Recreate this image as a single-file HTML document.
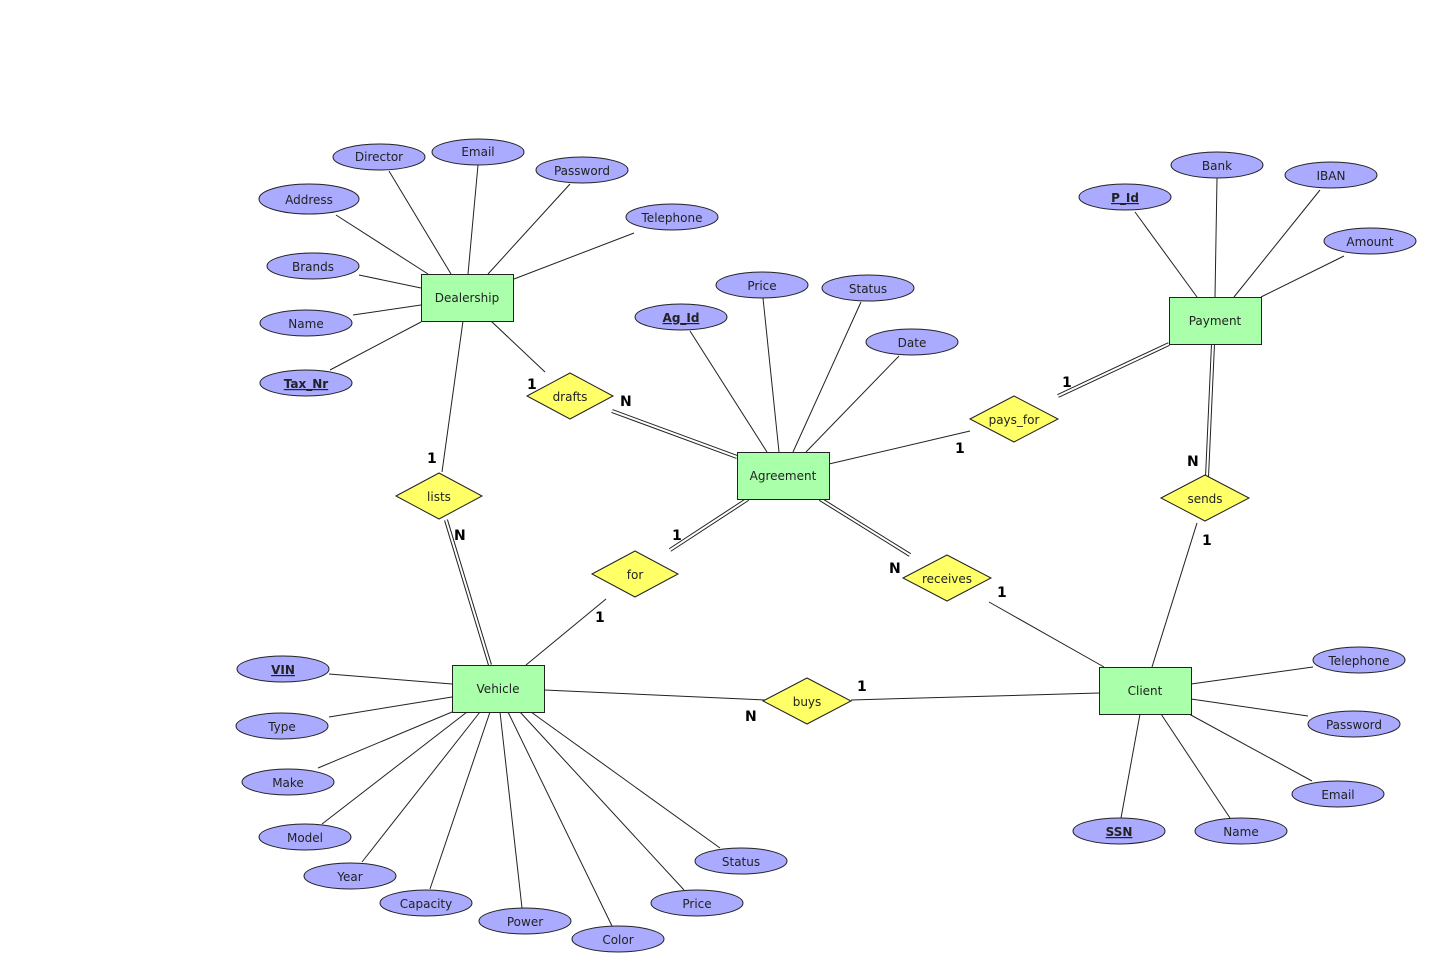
<!DOCTYPE html>
<html><head><meta charset="utf-8"><style>
html,body{margin:0;padding:0;background:#fff}
svg{display:block}
text{font-family:"DejaVu Sans","Liberation Sans",sans-serif;font-size:12px;fill:#222}
.l{font-weight:bold;font-size:14px;fill:#000}
.k{font-weight:bold;text-decoration:underline}
</style></head><body>
<svg width="1437" height="973" viewBox="0 0 1437 973" xmlns="http://www.w3.org/2000/svg">
<g stroke="#222" stroke-width="1" fill="none">
<!-- dealership attrs -->
<line x1="389" y1="171" x2="451" y2="274"/><line x1="478" y1="165" x2="468" y2="274"/>
<line x1="570" y1="184" x2="488" y2="274"/><line x1="634" y1="233" x2="514" y2="279"/>
<line x1="336" y1="215" x2="428" y2="274"/><line x1="359" y1="275" x2="421" y2="288"/>
<line x1="353" y1="315" x2="421" y2="305"/><line x1="330" y1="370" x2="421" y2="322"/>
<line x1="491" y1="321" x2="545" y2="372"/><line x1="463" y1="321" x2="442" y2="472"/>
<!-- agreement attrs -->
<line x1="690" y1="331" x2="767" y2="452"/><line x1="763" y1="298" x2="779" y2="452"/>
<line x1="861" y1="302" x2="793" y2="452"/><line x1="899" y1="356" x2="806" y2="452"/>
<line x1="829" y1="464" x2="970" y2="431"/>
<!-- payment -->
<line x1="1135" y1="212" x2="1197" y2="297"/><line x1="1217" y1="178" x2="1215" y2="297"/>
<line x1="1320" y1="190" x2="1234" y2="297"/><line x1="1344" y1="256" x2="1261" y2="297"/>
<line x1="1197" y1="523" x2="1152" y2="667"/>
<line x1="606" y1="599" x2="526" y2="665"/>
<line x1="989" y1="602" x2="1104" y2="667"/>
<line x1="544" y1="690" x2="765" y2="700"/><line x1="851" y1="700" x2="1099" y2="693"/>
<!-- vehicle attrs -->
<line x1="329" y1="674" x2="452" y2="684"/><line x1="329" y1="717" x2="452" y2="697"/>
<line x1="318" y1="768" x2="452" y2="712"/><line x1="322" y1="824" x2="467" y2="712"/>
<line x1="362" y1="862" x2="480" y2="712"/><line x1="430" y1="889" x2="490" y2="712"/>
<line x1="522" y1="908" x2="500" y2="712"/><line x1="612" y1="926" x2="508" y2="712"/>
<line x1="684" y1="890" x2="520" y2="712"/><line x1="720" y1="848" x2="531" y2="712"/>
<!-- client attrs -->
<line x1="1313" y1="667" x2="1191" y2="684"/><line x1="1308" y1="716" x2="1191" y2="699"/>
<line x1="1312" y1="781" x2="1189" y2="714"/><line x1="1230" y1="818" x2="1161" y2="714"/>
<line x1="1121" y1="818" x2="1140" y2="714"/>
</g>
<!-- double lines -->
<g stroke="#222" stroke-width="4" fill="none">
<line x1="612" y1="411" x2="737" y2="457"/><line x1="1058" y1="396" x2="1169" y2="344"/>
<line x1="1213" y1="344" x2="1207" y2="477"/><line x1="748" y1="499" x2="670" y2="550"/>
<line x1="820" y1="499" x2="910" y2="555"/><line x1="446" y1="520" x2="490" y2="665"/>
</g>
<g stroke="#fff" stroke-width="2" fill="none">
<line x1="612" y1="411" x2="737" y2="457"/><line x1="1058" y1="396" x2="1169" y2="344"/>
<line x1="1213" y1="344" x2="1207" y2="477"/><line x1="748" y1="499" x2="670" y2="550"/>
<line x1="820" y1="499" x2="910" y2="555"/><line x1="446" y1="520" x2="490" y2="665"/>
</g>
<!-- ellipses -->
<g fill="#aaaaff" stroke="#222" stroke-width="1">
<ellipse cx="379" cy="157" rx="46" ry="13"/><ellipse cx="478" cy="152" rx="46" ry="13"/>
<ellipse cx="582" cy="170" rx="46" ry="13"/><ellipse cx="672" cy="217" rx="46" ry="13"/>
<ellipse cx="309" cy="199" rx="50" ry="15"/><ellipse cx="313" cy="266" rx="46" ry="13"/>
<ellipse cx="306" cy="323" rx="46" ry="13"/><ellipse cx="306" cy="383" rx="46" ry="13"/>
<ellipse cx="681" cy="317" rx="46" ry="13"/><ellipse cx="762" cy="285" rx="46" ry="13"/>
<ellipse cx="868" cy="288" rx="46" ry="13"/><ellipse cx="912" cy="342" rx="46" ry="13"/>
<ellipse cx="1125" cy="197" rx="46" ry="13"/><ellipse cx="1217" cy="165" rx="46" ry="13"/>
<ellipse cx="1331" cy="175" rx="46" ry="13"/><ellipse cx="1370" cy="241" rx="46" ry="13"/>
<ellipse cx="283" cy="669" rx="46" ry="13"/><ellipse cx="282" cy="726" rx="46" ry="13"/>
<ellipse cx="288" cy="782" rx="46" ry="13"/><ellipse cx="305" cy="837" rx="46" ry="13"/>
<ellipse cx="350" cy="876" rx="46" ry="13"/><ellipse cx="426" cy="903" rx="46" ry="13"/>
<ellipse cx="525" cy="921" rx="46" ry="13"/><ellipse cx="618" cy="939" rx="46" ry="13"/>
<ellipse cx="697" cy="903" rx="46" ry="13"/><ellipse cx="741" cy="861" rx="46" ry="13"/>
<ellipse cx="1359" cy="660" rx="46" ry="13"/><ellipse cx="1354" cy="724" rx="46" ry="13"/>
<ellipse cx="1338" cy="794" rx="46" ry="13"/><ellipse cx="1241" cy="831" rx="46" ry="13"/>
<ellipse cx="1119" cy="831" rx="46" ry="13"/>
</g>
<!-- entities -->
<g fill="#aaffaa" stroke="#222" stroke-width="1">
<rect x="421.5" y="274.5" width="92" height="47"/><rect x="737.5" y="452.5" width="92" height="47"/>
<rect x="1169.5" y="297.5" width="92" height="47"/><rect x="452.5" y="665.5" width="92" height="47"/>
<rect x="1099.5" y="667.5" width="92" height="47"/>
</g>
<!-- diamonds -->
<g fill="#ffff66" stroke="#222" stroke-width="1">
<polygon points="527,396 570,373 613,396 570,419"/>
<polygon points="970,419 1014,396 1058,419 1014,442"/>
<polygon points="1161,498 1205,475 1249,498 1205,521"/>
<polygon points="396,496 439,473 482,496 439,519"/>
<polygon points="592,574 635,551 678,574 635,597"/>
<polygon points="903,578 947,555 991,578 947,601"/>
<polygon points="763,701 807,678 851,701 807,724"/>
</g>
<g text-anchor="middle">
<text x="379" y="161">Director</text><text x="478" y="156">Email</text>
<text x="582" y="175">Password</text><text x="672" y="222">Telephone</text>
<text x="309" y="204">Address</text><text x="313" y="271">Brands</text>
<text x="306" y="328">Name</text><text x="306" y="388" class="k">Tax_Nr</text>
<text x="681" y="322" class="k">Ag_Id</text><text x="762" y="290">Price</text>
<text x="868" y="293">Status</text><text x="912" y="347">Date</text>
<text x="1125" y="202" class="k">P_Id</text><text x="1217" y="170">Bank</text>
<text x="1331" y="180">IBAN</text><text x="1370" y="246">Amount</text>
<text x="283" y="674" class="k">VIN</text><text x="282" y="731">Type</text>
<text x="288" y="787">Make</text><text x="305" y="842">Model</text>
<text x="350" y="881">Year</text><text x="426" y="908">Capacity</text>
<text x="525" y="926">Power</text><text x="618" y="944">Color</text>
<text x="697" y="908">Price</text><text x="741" y="866">Status</text>
<text x="1359" y="665">Telephone</text><text x="1354" y="729">Password</text>
<text x="1338" y="799">Email</text><text x="1241" y="836">Name</text>
<text x="1119" y="836" class="k">SSN</text>
<text x="467" y="302">Dealership</text><text x="783" y="480">Agreement</text>
<text x="1215" y="325">Payment</text><text x="498" y="693">Vehicle</text>
<text x="1145" y="695">Client</text>
<text x="570" y="401">drafts</text><text x="1014" y="424">pays_for</text>
<text x="1205" y="503">sends</text><text x="439" y="501">lists</text>
<text x="635" y="579">for</text><text x="947" y="583">receives</text>
<text x="807" y="706">buys</text>
</g>
<g>
<text class="l" x="527" y="389">1</text><text class="l" x="620" y="406">N</text>
<text class="l" x="955" y="453">1</text><text class="l" x="1062" y="387">1</text>
<text class="l" x="1187" y="466">N</text><text class="l" x="1202" y="545">1</text>
<text class="l" x="672" y="540">1</text><text class="l" x="595" y="622">1</text>
<text class="l" x="889" y="573">N</text><text class="l" x="997" y="597">1</text>
<text class="l" x="454" y="540">N</text><text class="l" x="427" y="463">1</text>
<text class="l" x="745" y="721">N</text><text class="l" x="857" y="691">1</text>
</g>
</svg>
</body></html>
